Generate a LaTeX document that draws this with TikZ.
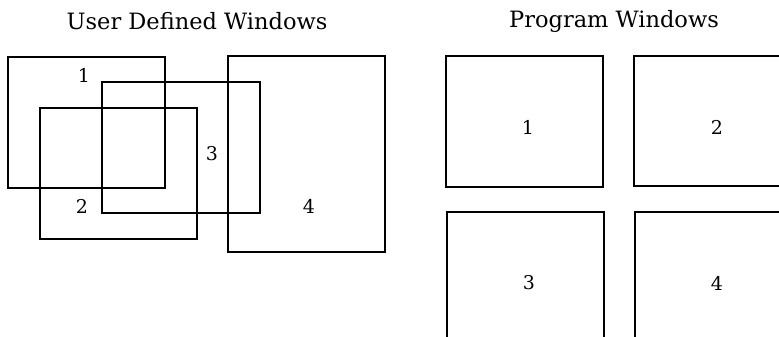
\documentclass[tikz,border=0pt]{standalone}
\usepackage{fontspec}
\setmainfont{DejaVu Serif}
\begin{document}
\begin{tikzpicture}[x=1pt,y=-1pt,
  win/.style={draw=black,line width=2.2pt},
  heading/.style={font=\fontsize{22.5}{26}\selectfont},
  num/.style={font=\fontsize{19}{22}\selectfont,inner sep=0pt}]
\useasboundingbox (0,0) rectangle (779,337);
\clip (0,0) rectangle (779,337);

% overlapping user-defined windows
\node[heading] (titleL) at (197,21) {User Defined Windows};
\draw[win] (8,57) rectangle (165,188);
\draw[win] (102,82) rectangle (260,213);
\draw[win] (40,108) rectangle (197,239);
\draw[win] (228,56) rectangle (385,252);
\node[num] (u1) at (84,75) {1};
\node[num] (u2) at (82,206) {2};
\node[num] (u3) at (212,154) {3};
\node[num] (u4) at (309,206) {4};

% tiled program windows
\node[heading] (titleR) at (614,21) {Program Windows};
\draw[win] (446,56) rectangle (603,187);
\draw[win] (785,56) -- (634,56) -- (634,186) -- (785,186);
\draw[win] (447,345) -- (447,212) -- (604,212) -- (604,345);
\draw[win] (635,345) -- (635,212) -- (785,212);
\node[num] (p1) at (528,127) {1};
\node[num] (p2) at (717,127) {2};
\node[num] (p3) at (529,283) {3};
\node[num] (p4) at (717,283) {4};
\end{tikzpicture}
\end{document}
